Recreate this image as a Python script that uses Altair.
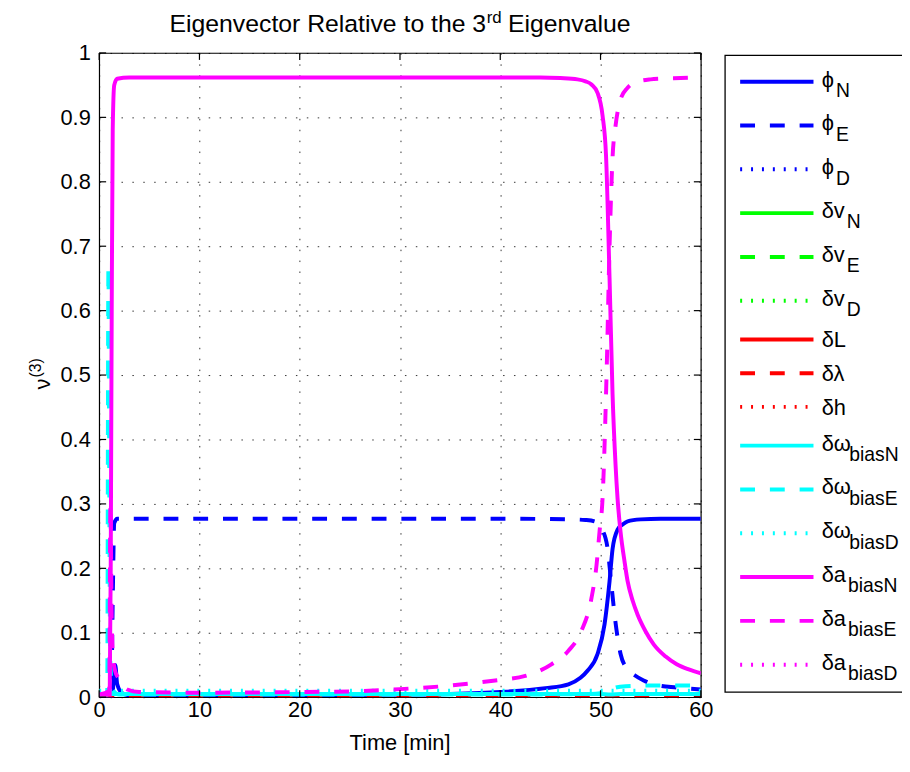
import altair as alt
import pandas as pd

# ---------------- data ----------------
SERIES = ["phiN", "phiE", "phiD", "dvN", "dvE", "dvD", "dL", "dlam", "dh",
          "dwN", "dwE", "dwD", "daN", "daE", "daD"]
LEGEND_MAIN = ["ϕ", "ϕ", "ϕ", "δv", "δv", "δv", "δL", "δλ", "δh",
               "δω", "δω", "δω", "δa", "δa", "δa"]
LEGEND_SUB = ["N", "E", "D", "N", "E", "D", "", "", "",
              "biasN", "biasE", "biasD", "biasN", "biasE", "biasD"]
COLORS = ["#0000ff", "#0000ff", "#0000ff", "#00ff00", "#00ff00", "#00ff00",
          "#ff0000", "#ff0000", "#ff0000", "#00ffff", "#00ffff", "#00ffff",
          "#ff00ff", "#ff00ff", "#ff00ff"]
STYLES = ["solid", "dashed", "dotted"] * 5

X_TICKS = [0, 10, 20, 30, 40, 50, 60]
Y_TICKS = [0, 0.1, 0.2, 0.3, 0.4, 0.5, 0.6, 0.7, 0.8, 0.9, 1.0]

TITLE_MAIN = "Eigenvector Relative to the 3"
TITLE_SUP = "rd"
TITLE_END = "Eigenvalue"
YTITLE_MAIN = "ν"
YTITLE_SUP = "(3)"
XTITLE = "Time [min]"

# phi_N
T_PHI_N = [0, 1.3, 1.45, 1.6, 1.8, 2.3, 3, 10, 20, 30, 35, 40, 44.5, 46.8, 48.0, 48.7,
           49.7, 50.4, 50.9, 51.2, 51.7, 52.2, 52.7, 54, 56, 60]
V_PHI_N = [0, 0, 0.03, 0.05, 0.02, 0.006, 0.003, 0.003, 0.003, 0.004, 0.005, 0.008, 0.014,
           0.02, 0.03, 0.041, 0.067, 0.113, 0.18, 0.23, 0.26, 0.268, 0.273, 0.276, 0.277, 0.277]
# phi_E
T_PHI_E = [0, 1.2, 1.35, 1.5, 1.8, 10, 20, 30, 40, 47, 48.5, 49.4, 50.2, 50.7, 51.05, 51.4,
           52.0, 52.6, 53.4, 54.3, 55.3, 57.6, 60]
V_PHI_E = [0, 0, 0.15, 0.27, 0.277, 0.277, 0.277, 0.277, 0.277, 0.276, 0.275, 0.273, 0.259,
           0.231, 0.18, 0.128, 0.067, 0.045, 0.034, 0.026, 0.02, 0.015, 0.012]
# phi_D
T_PHI_D = [0, 60]
V_PHI_D = [-0.01, -0.01]
# dv_N, dv_E, dv_D
T_DV_N = [0, 60]
V_DV_N = [-0.01, -0.01]
T_DV_E = [0, 60]
V_DV_E = [-0.01, -0.01]
T_DV_D = [0, 60]
V_DV_D = [-0.01, -0.01]
# dL, dlambda, dh
T_DL = [0, 60]
V_DL = [-0.01, -0.01]
T_DLAM = [0, 60]
V_DLAM = [0, 0]
T_DH = [0, 60]
V_DH = [-0.01, -0.01]
# dw_biasN
T_DW_N = [0, 20, 40, 50, 51, 52, 60]
V_DW_N = [0.005, 0.005, 0.005, 0.005, 0.004, 0.005, 0.005]
# dw_biasE
T_DW_E = [0, 0.8, 0.92, 1.0, 1.1, 1.3, 2, 20, 40, 49, 50, 50.7, 51.5, 52.5, 55, 60]
V_DW_E = [0.004, 0.004, 0.67, 0.35, 0.06, 0.012, 0.004, 0.004, 0.004, 0.005, 0.006, 0.01,
          0.015, 0.017, 0.018, 0.018]
# dw_biasD
T_DW_D = [0, 60]
V_DW_D = [0.01, 0.01]
# da_biasN
T_DA_N = [0, 1.05, 1.15, 1.25, 1.35, 1.5, 1.8, 3, 10, 20, 30, 40, 44, 46, 47.7, 48.5, 49.1,
          49.7, 50.2, 50.55, 50.9, 51.2, 51.5, 51.7, 52.0, 52.4, 52.7, 53.2, 53.7, 54.5,
          55.3, 56.5, 57.6, 58.8, 60]
V_DA_N = [0.004, 0.004, 0.2, 0.6, 0.88, 0.95, 0.96, 0.962, 0.962, 0.962, 0.962, 0.962, 0.962,
          0.961, 0.959, 0.956, 0.951, 0.938, 0.903, 0.84, 0.65, 0.47, 0.36, 0.308, 0.256,
          0.21, 0.18, 0.15, 0.128, 0.102, 0.082, 0.063, 0.051, 0.043, 0.037]
# da_biasE
T_DA_E = [0, 1.0, 1.12, 1.25, 1.4, 1.6, 1.9, 2.3, 2.8, 4, 10, 20, 25, 30, 35, 39.5, 42.5,
          45.1, 46.8, 48.1, 49.1, 49.6, 49.9, 50.2, 50.6, 50.9, 51.2, 51.5, 52.0, 52.7,
          53.4, 55, 56, 58, 60]
V_DA_E = [0.004, 0.01, 0.3, 0.12, 0.06, 0.04, 0.03, 0.02, 0.012, 0.008, 0.007, 0.008, 0.009,
          0.0125, 0.018, 0.026, 0.033, 0.051, 0.072, 0.103, 0.154, 0.205, 0.257, 0.308, 0.5,
          0.7, 0.838, 0.887, 0.928, 0.946, 0.954, 0.959, 0.96, 0.961, 0.962]
# da_biasD
T_DA_D = [0, 60]
V_DA_D = [-0.01, -0.01]

TIMES = [T_PHI_N, T_PHI_E, T_PHI_D, T_DV_N, T_DV_E, T_DV_D, T_DL, T_DLAM, T_DH,
         T_DW_N, T_DW_E, T_DW_D, T_DA_N, T_DA_E, T_DA_D]
VALUES = [V_PHI_N, V_PHI_E, V_PHI_D, V_DV_N, V_DV_E, V_DV_D, V_DL, V_DLAM, V_DH,
          V_DW_N, V_DW_E, V_DW_D, V_DA_N, V_DA_E, V_DA_D]

# ---------------- layout / style ----------------
W, H = 607, 650
PAD = {"left": 92, "top": 42, "right": 203, "bottom": 56}
FONT = "Liberation Sans"
DASHES = {"solid": [1, 0], "dashed": [15, 15], "dotted": [2, 9]}
LW = 4

AW = {'E': 0.667, 'i': 0.222, 'g': 0.556, 'e': 0.556, 'n': 0.556, 'v': 0.5, 'c': 0.5,
      't': 0.278, 'o': 0.556, 'r': 0.333, ' ': 0.278, 'R': 0.722, 'l': 0.222, 'a': 0.556,
      'h': 0.556, '3': 0.556, 'd': 0.556, 'u': 0.556, 'ϕ': 0.56, 'δ': 0.556, 'ω': 0.62,
      'L': 0.556, 'λ': 0.5}


def tw(s, size):
    return sum(AW.get(c, 0.556) for c in s) * size


rows = []
for name, ts, vs in zip(SERIES, TIMES, VALUES):
    for t, v in zip(ts, vs):
        rows.append({"series": name, "t": t, "v": v})
df = pd.DataFrame(rows)

xscale = alt.Scale(domain=[0, 60], nice=False, zero=False)
yscale = alt.Scale(domain=[0, 1], nice=False, zero=False)
common_axis = dict(title=None, grid=True, ticks=False, tickSize=0, domain=False,
                   labelFontSize=22, labelFont=FONT, labelColor="black",
                   gridColor="black", gridDash=[1.5, 9.5], gridOpacity=0.8, gridWidth=1,
                   labelFlush=False, labelOverlap=False)
xaxis = alt.Axis(values=X_TICKS, format="d", labelPadding=3, **common_axis)
yaxis = alt.Axis(values=Y_TICKS, format=".1~f", labelPadding=9, **common_axis)


def xe(field):
    return alt.X(field, scale=xscale, axis=xaxis)


def ye(field):
    return alt.Y(field, scale=yscale, axis=yaxis)


plot_layers = []
for name, col, sty in zip(SERIES, COLORS, STYLES):
    kw = dict(color=col, strokeWidth=LW, clip=True, interpolate="monotone", strokeCap="butt")
    if sty != "solid":
        kw["strokeDash"] = DASHES[sty]
    plot_layers.append(
        alt.Chart(df).transform_filter(alt.datum.series == name)
        .mark_line(**kw).encode(x=xe("t:Q"), y=ye("v:Q"))
    )

xt = pd.DataFrame({"t": X_TICKS})
yt = pd.DataFrame({"v": Y_TICKS})
TK = 7
tick_style = dict(color="black", strokeWidth=1.2)
plot_layers += [
    alt.Chart(xt).mark_rule(**tick_style).encode(x=xe("t:Q"), y=alt.value(H), y2=alt.value(H - TK)),
    alt.Chart(xt).mark_rule(**tick_style).encode(x=xe("t:Q"), y=alt.value(0), y2=alt.value(TK)),
    alt.Chart(yt).mark_rule(**tick_style).encode(y=ye("v:Q"), x=alt.value(0), x2=alt.value(TK)),
    alt.Chart(yt).mark_rule(**tick_style).encode(y=ye("v:Q"), x=alt.value(W - TK), x2=alt.value(W)),
]
plot = alt.layer(*plot_layers)

# ---------------- legend (built from the label arrays) ----------------
LEG_X0, LEG_X1, LEG_TX = 646.7, 720.7, 729.0
MAIN_FS, SUB_FS = 22, 19.5
ly, my, sy, sx = [], [], [], []
prev = None
ycur = 29.0
for main, sub in zip(LEGEND_MAIN, LEGEND_SUB):
    h = 44.2 if sub else 34.0
    if prev is not None:
        ycur += (prev + h) / 2
    prev = h
    ly.append(ycur)
    if sub:
        my.append(ycur + 5)
        sy.append(ycur + 15.5)
    else:
        my.append(ycur + 8)
        sy.append(ycur + 8)
    sx.append(LEG_TX + tw(main, MAIN_FS) + 2)
leg = pd.DataFrame({"series": SERIES, "main": LEGEND_MAIN, "sub": LEGEND_SUB,
                    "ly": ly, "my": my, "sy": sy, "sx": sx})

one = pd.DataFrame({"k": [0]})
box = alt.Chart(one).mark_rect(fill="white", stroke="black", strokeWidth=1.3).encode(
    x=alt.value(631.5), x2=alt.value(815), y=alt.value(2.5), y2=alt.value(645))
leg_lines = alt.Chart(leg).mark_rule(strokeWidth=LW, strokeCap="butt").encode(
    x=alt.value(LEG_X0), x2=alt.value(LEG_X1),
    y=alt.Y("ly:Q", scale=None, axis=None),
    color=alt.Color("series:N", scale=alt.Scale(domain=SERIES, range=COLORS), legend=None),
    strokeDash=alt.StrokeDash("series:N",
                              scale=alt.Scale(domain=SERIES, range=[DASHES[s] for s in STYLES]),
                              legend=None),
)
leg_main = alt.Chart(leg).mark_text(align="left", baseline="alphabetic", fontSize=MAIN_FS,
                                    font=FONT, color="black").encode(
    x=alt.value(LEG_TX), y=alt.Y("my:Q", scale=None, axis=None), text="main:N")
leg_sub = alt.Chart(leg).transform_filter(alt.datum.sub != "").mark_text(
    align="left", baseline="alphabetic", fontSize=SUB_FS, font=FONT, color="black").encode(
    x=alt.X("sx:Q", scale=None, axis=None), y=alt.Y("sy:Q", scale=None, axis=None), text="sub:N")

# ---------------- titles ----------------
T_FS, T_SFS = 25, 17
w_main = tw(TITLE_MAIN, T_FS)
w_sup = tw(TITLE_SUP, T_SFS)
w_end = tw(" " + TITLE_END, T_FS)
tstart = W / 2 - (w_main + w_sup + w_end) / 2
tX = tstart + w_main
TY = -21
ttl = dict(font=FONT, color="black", baseline="alphabetic")
title_a = alt.Chart(one).mark_text(align="right", fontSize=T_FS, **ttl).encode(
    x=alt.value(tX), y=alt.value(TY), text=alt.value(TITLE_MAIN))
title_b = alt.Chart(one).mark_text(align="left", fontSize=T_SFS, **ttl).encode(
    x=alt.value(tX + 0.5), y=alt.value(TY - 9), text=alt.value(TITLE_SUP))
title_c = alt.Chart(one).mark_text(align="left", fontSize=T_FS, **ttl).encode(
    x=alt.value(tX + w_sup + tw(" ", T_FS)), y=alt.value(TY), text=alt.value(TITLE_END))

YA = 328.5
ytitle_a = alt.Chart(one).mark_text(align="right", angle=270, fontSize=22, **ttl).encode(
    x=alt.value(-50), y=alt.value(YA), text=alt.value(YTITLE_MAIN))
ytitle_b = alt.Chart(one).mark_text(align="left", angle=270, fontSize=16, dy=-9, **ttl).encode(
    x=alt.value(-50), y=alt.value(YA - 1), text=alt.value(YTITLE_SUP))
xtitle = alt.Chart(one).mark_text(align="center", fontSize=22, **ttl).encode(
    x=alt.value(W / 2), y=alt.value(H + 53), text=alt.value(XTITLE))

deco = alt.layer(box, leg_lines, leg_main, leg_sub, title_a, title_b, title_c,
                 ytitle_a, ytitle_b, xtitle)

chart = (
    alt.layer(plot, deco)
    .resolve_scale(x="independent", y="independent", color="independent",
                   strokeDash="independent")
    .properties(width=W, height=H, padding=PAD, autosize=alt.AutoSizeParams(type="none"),
                background="white")
    .configure_view(stroke="black", strokeWidth=1.2)
)

chart.save("out.html", embed_options={"renderer": "svg", "actions": False})
